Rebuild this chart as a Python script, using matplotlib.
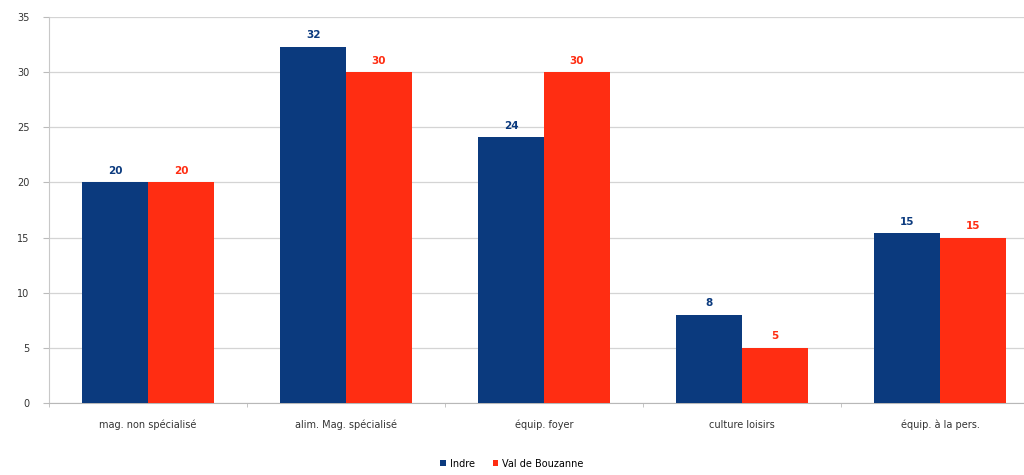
import numpy as np
import matplotlib.pyplot as plt
from matplotlib.ticker import MultipleLocator, FixedLocator

categories = ['mag. non spécialisé', 'alim. Mag. spécialisé', 'équip. foyer',
              'culture loisirs', 'équip. à la pers.']
indre = [20, 32.3, 24.1, 8, 15.4]
val_bouzanne = [20, 30, 30, 5, 15]
series_names = ['Indre', 'Val de Bouzanne']

c_indre = '#0b3a7e'
c_val = '#ff2d12'

fig = plt.figure(figsize=(10.24, 4.75), dpi=100)
ax = fig.add_axes([0.0479, 0.1516, 0.9668, 0.8126])

x = np.arange(len(categories))
w = 0.333
b1 = ax.bar(x - w / 2, indre, w, color=c_indre, label=series_names[0], zorder=3)
b2 = ax.bar(x + w / 2, val_bouzanne, w, color=c_val, label=series_names[1], zorder=3)

# value labels above each bar, coloured like their series
for bars, col in ((b1, c_indre), (b2, c_val)):
    for r in bars:
        h = r.get_height()
        ax.text(r.get_x() + r.get_width() / 2, h + 0.6, '%.0f' % h, ha='center',
                va='bottom', fontsize=7.5, fontweight='bold', color=col)

ax.set_xlim(-0.5, 4.5)
ax.set_ylim(0, 35)
ax.yaxis.set_major_locator(MultipleLocator(5))
ax.grid(axis='y', color='#d4d4d4', linewidth=0.9, zorder=0)

ax.set_xticks(x)
ax.set_xticklabels(categories, fontsize=7, color='#333333')
for lbl in ax.get_xticklabels():
    lbl.set_va('baseline')
ax.xaxis.set_minor_locator(FixedLocator(np.arange(-0.5, 5, 1)))
ax.tick_params(axis='x', which='major', length=0, pad=18)
ax.tick_params(axis='x', which='minor', length=3, color='#bbbbbb')
ax.tick_params(axis='y', length=4, color='#bbbbbb', labelsize=7, labelcolor='#333333', pad=10)

for s in ('top', 'right'):
    ax.spines[s].set_visible(False)
ax.spines['left'].set_color('#c8c8c8')
ax.spines['bottom'].set_color('#b8b8b8')

fig.legend(loc='lower center', bbox_to_anchor=(0.5, -0.005), ncol=2, frameon=False,
           fontsize=7, handlelength=0.6, handleheight=0.6, handletextpad=0.4,
           columnspacing=1.8)

fig.savefig('out.png', dpi=100)
